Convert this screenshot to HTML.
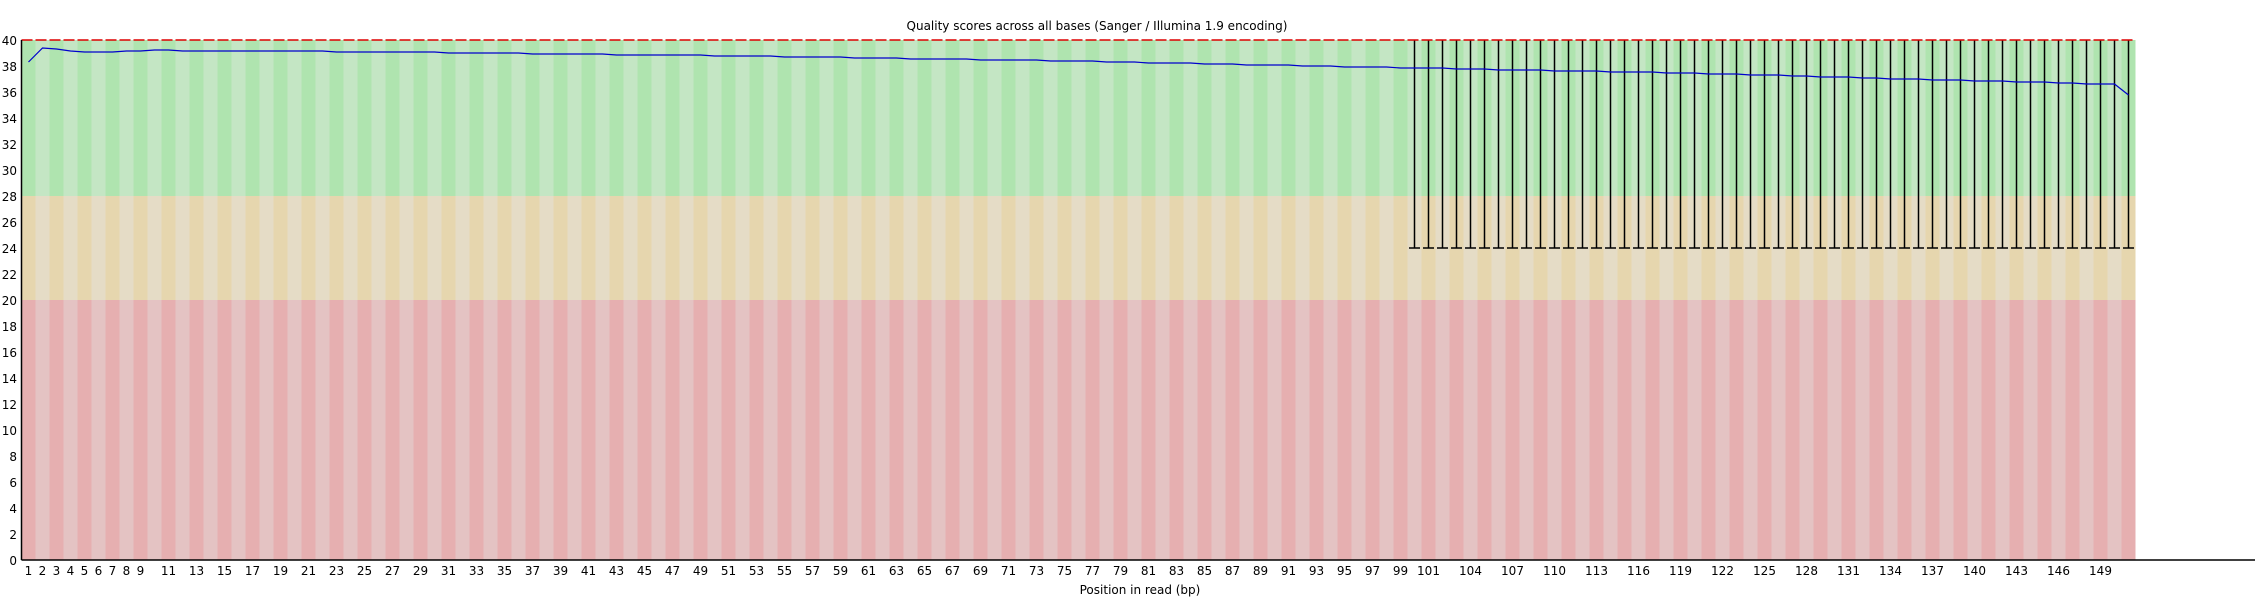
<!DOCTYPE html>
<html><head><meta charset="utf-8"><style>
html,body{margin:0;padding:0;background:#fff}
svg{display:block;font-family:"DejaVu Sans","Liberation Sans",sans-serif}
</style></head><body>
<svg id="s" width="2265" height="600" xmlns="http://www.w3.org/2000/svg"></svg>
<script>
var L=21.5,T=40,B=560,U=13,W=14,N=151;
function y(v){return B-v*U;}
var h='';
for(var i=0;i<N;i++){
 var x=L+i*W, d=(i%2==0);
 h+='<rect x="'+x+'" y="'+y(40)+'" width="'+W+'" height="'+(12*U)+'" fill="'+(d?'#afe4af':'#c4e6c4')+'"/>';
 h+='<rect x="'+x+'" y="'+y(28)+'" width="'+W+'" height="'+(8*U)+'" fill="'+(d?'#e6d6ae':'#e5dcc6')+'"/>';
 h+='<rect x="'+x+'" y="'+y(20)+'" width="'+W+'" height="'+(20*U)+'" fill="'+(d?'#e6afb0':'#e4c3c3')+'"/>';
}
for(var p=100;p<=N;p++){
 var cx=L+(p-1)*W+7;
 h+='<line x1="'+cx+'" y1="'+y(40)+'" x2="'+cx+'" y2="'+y(24)+'" stroke="#000" stroke-width="1.5"/>';
 h+='<line x1="'+(cx-5.5)+'" y1="'+y(24)+'" x2="'+(cx+5.5)+'" y2="'+y(24)+'" stroke="#000" stroke-width="1.5"/>';
}
var kp=[[1,38.28],[2,39.36],[3,39.28],[5,39.1],[6,39.05],[10,39.2],[25,39.1],[50,38.8],[75,38.4],[100,37.85],[120,37.45],[138,36.92],[150,36.6],[151,35.8]];
function val(p){for(var k=0;k<kp.length-1;k++){if(p>=kp[k][0]&&p<=kp[k+1][0]){var t=(p-kp[k][0])/(kp[k+1][0]-kp[k][0]);return kp[k][1]+t*(kp[k+1][1]-kp[k][1]);}}return 36;}
var pts=[];
for(var p=1;p<=N;p++){var cx=L+(p-1)*W+7;pts.push(cx+','+Math.round(y(val(p))));}
h+='<polyline points="'+pts.join(' ')+'" fill="none" stroke="#0000cc" stroke-width="1.2"/>';
h+='<line x1="'+L+'" y1="40" x2="'+(L+N*W)+'" y2="40" stroke="#d00" stroke-width="1.5" stroke-dasharray="11,3"/>';
h+='<line x1="'+L+'" y1="40" x2="'+L+'" y2="'+B+'" stroke="#000" stroke-width="1.5"/>';
h+='<line x1="'+L+'" y1="'+B+'" x2="2255" y2="'+B+'" stroke="#000" stroke-width="1.5"/>';
for(var v=0;v<=40;v+=2){h+='<text x="17" y="'+(y(v)+5)+'" font-size="12" text-anchor="end">'+v+'</text>';}
var labs=[];for(var p=1;p<=9;p++)labs.push(p);for(var p=11;p<=99;p+=2)labs.push(p);for(var p=101;p<=149;p+=3)labs.push(p);
labs.forEach(function(p){var cx=L+(p-1)*W+7;h+='<text x="'+cx+'" y="575" font-size="12" text-anchor="middle">'+p+'</text>';});
h+='<text x="1097" y="30" font-size="12" text-anchor="middle">Quality scores across all bases (Sanger / Illumina 1.9 encoding)</text>';
h+='<text x="1140" y="594" font-size="12" text-anchor="middle">Position in read (bp)</text>';
document.getElementById('s').innerHTML=h;
</script>
</body></html>
